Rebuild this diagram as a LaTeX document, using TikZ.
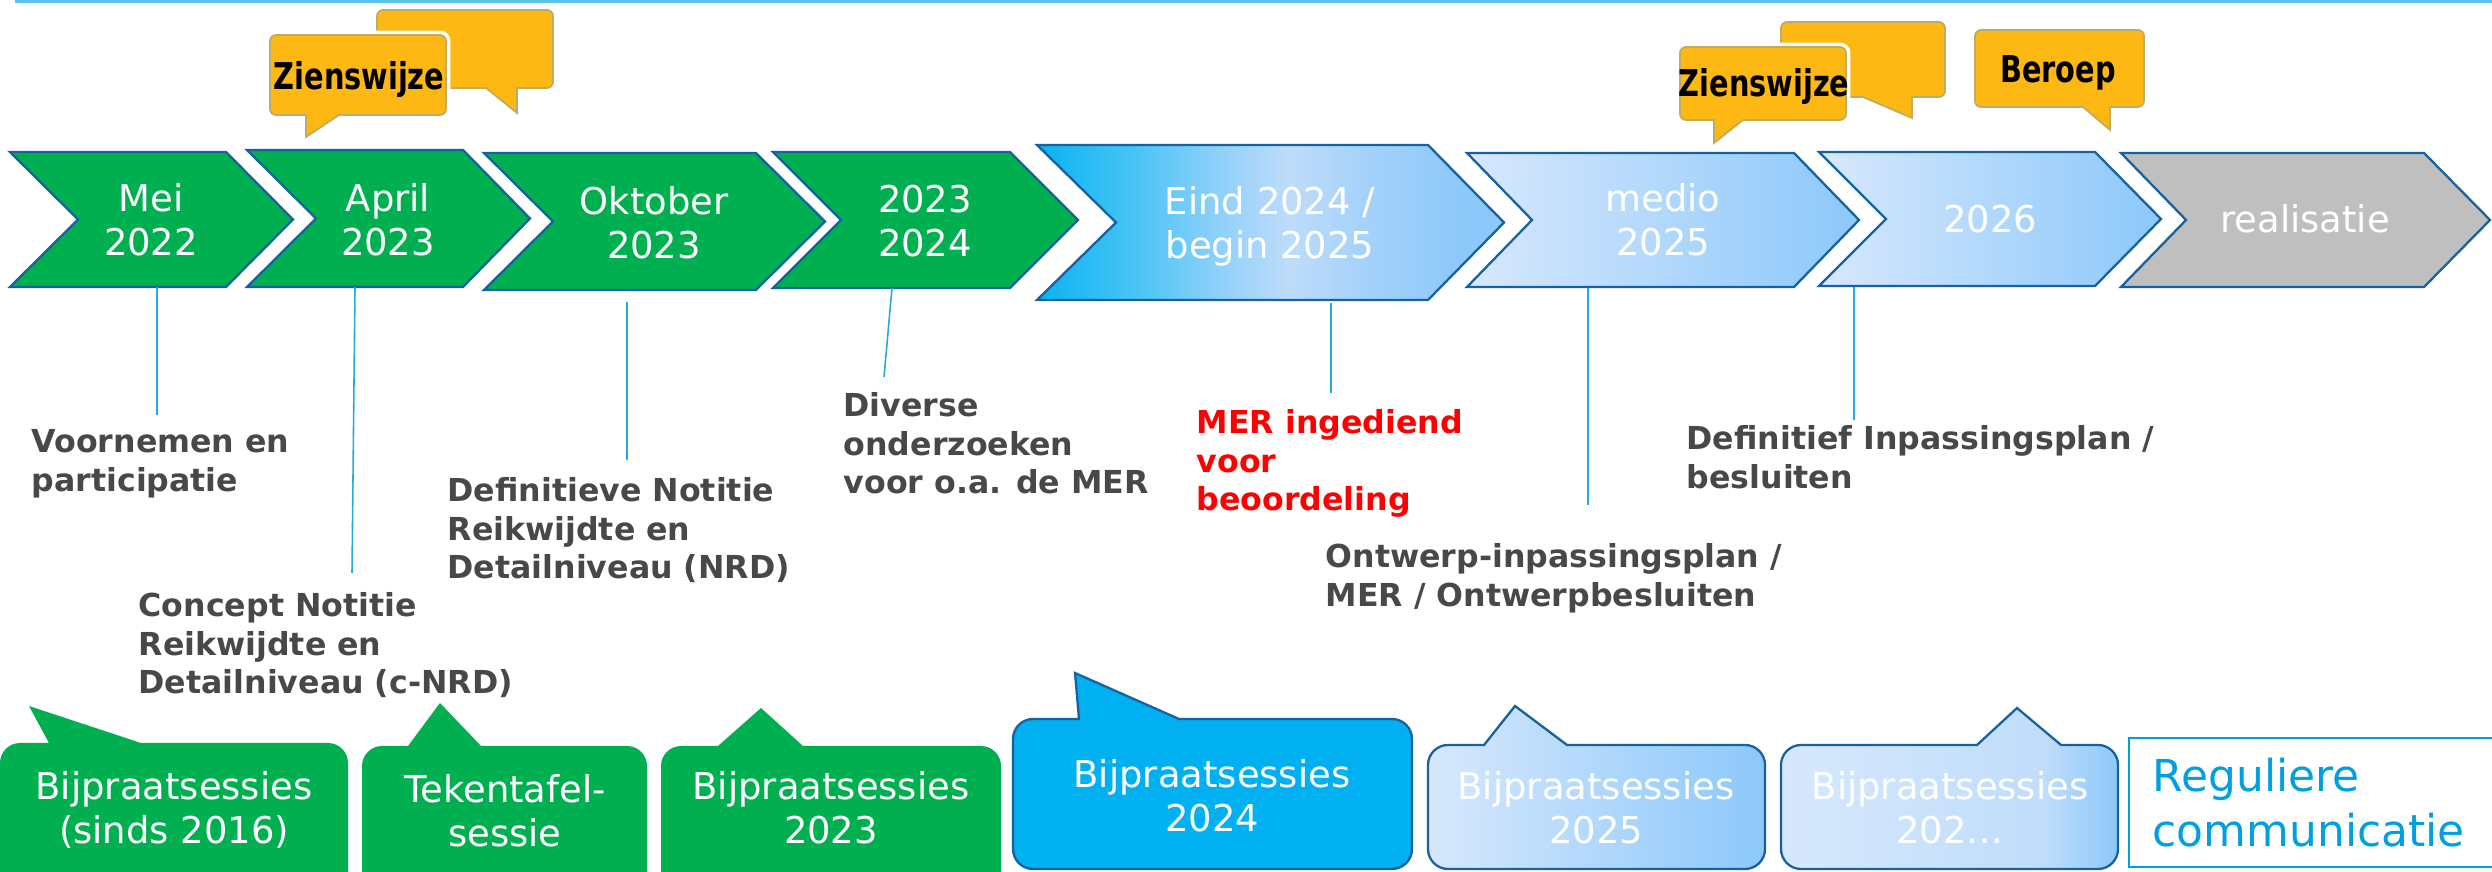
\documentclass[tikz,border=0pt]{standalone}
\usepackage{fontspec}
\setmainfont{DejaVu Sans}
\newfontfamily\zfont{DejaVu Sans}[FakeStretch=0.78]
\definecolor{cgreen}{RGB}{0,176,80}
\definecolor{cedge}{RGB}{22,98,160}
\definecolor{cgray}{RGB}{191,191,191}
\definecolor{clab}{RGB}{72,72,74}
\definecolor{cconn}{RGB}{41,168,224}
\definecolor{ccyan}{RGB}{0,176,240}
\definecolor{cEa}{RGB}{10,178,240}
\definecolor{cEb}{RGB}{70,195,245}
\definecolor{cEc}{RGB}{150,210,250}
\definecolor{cEd}{RGB}{190,220,250}
\definecolor{cEe}{RGB}{165,210,250}
\definecolor{clight}{RGB}{215,232,253}
\definecolor{cB6}{RGB}{192,221,250}
\definecolor{cblue}{RGB}{140,200,250}
\definecolor{creg}{RGB}{0,160,223}
\definecolor{corange}{RGB}{253,184,19}
\definecolor{corangeedge}{RGB}{190,172,100}
\definecolor{ctop}{RGB}{91,194,236}
\pgfdeclarehorizontalshading{eindsh}{100bp}{color(0bp)=(cEa); color(25bp)=(cEa); color(35bp)=(cEb); color(45.5bp)=(cEc); color(52bp)=(cEd); color(60bp)=(cEe); color(70.5bp)=(cblue); color(75bp)=(cblue); color(100bp)=(cblue)}
\pgfdeclarehorizontalshading{lightsh}{100bp}{color(0bp)=(clight); color(25bp)=(clight); color(75bp)=(cblue); color(100bp)=(cblue)}
\pgfdeclarehorizontalshading{bsixsh}{100bp}{color(0bp)=(clight); color(25bp)=(clight); color(64bp)=(cB6); color(75bp)=(cblue); color(100bp)=(cblue)}
\newcommand\ml[1]{\vtop{\halign{\hfil##\hfil\cr#1\crcr}}}
\newcommand\mll[1]{\vtop{\halign{##\hfil\cr#1\crcr}}}
\newcommand\chev[7]{\path[#7] (#1,#2) -- (#3,#2) -- (#4,{(#2+#5)/2}) -- (#3,#5) -- (#1,#5) -- (#6,{(#2+#5)/2}) -- cycle;}
\newcommand\topbub[9]{\path[#9] (#1+\rr,#2) -- (#3-\rr,#2) arc[start angle=-90,end angle=0,radius=\rr] -- (#3,#4-\rr) arc[start angle=0,end angle=90,radius=\rr] -- (#8,#4) -- (#6,#7) -- (#5,#4) -- (#1+\rr,#4) arc[start angle=90,end angle=180,radius=\rr] -- (#1,#2+\rr) arc[start angle=180,end angle=270,radius=\rr] -- cycle;}
\newcommand\botbub[9]{\path[#9] (#1+\rr,#2) -- (#5,#2) -- (#6,#7) -- (#8,#2) -- (#3-\rr,#2) arc[start angle=-90,end angle=0,radius=\rr] -- (#3,#4-\rr) arc[start angle=0,end angle=90,radius=\rr] -- (#1+\rr,#4) arc[start angle=90,end angle=180,radius=\rr] -- (#1,#2+\rr) arc[start angle=180,end angle=270,radius=\rr] -- cycle;}
\tikzset{
  chevgreen/.style={fill=cgreen,draw=cedge,line width=0.65pt},
  chevbox/.style={draw=cedge,line width=0.65pt},
  chevtext/.style={anchor=base,inner sep=0,text=white,font=\fontsize{10.5}{12.3}\selectfont},
  bottext/.style={anchor=base,inner sep=0,text=white,font=\fontsize{10.5}{12.5}\selectfont},
  lab/.style={anchor=base west,inner sep=0,text=clab,font=\bfseries\fontsize{9}{10.9}\selectfont},
  conn/.style={draw=cconn,line width=0.45pt},
  zbub/.style={fill=corange,draw=corangeedge,line width=0.5pt},
  zhalo/.style={draw=white,line width=2.5pt},
  ztext/.style={anchor=base,inner sep=0,text=black,font=\zfont\bfseries\fontsize{10.5}{12}\selectfont},
  bubblue/.style={fill=ccyan,draw=cedge,line width=0.65pt},
}
\begin{document}
\begin{tikzpicture}[x=0.1mm,y=-0.1mm]
\useasboundingbox (0,0) rectangle (2492,872);
\clip (0,0) rectangle (2492,872);
% top line
\draw[ctop,line width=0.7pt] (15,1.5) -- (2492,1.5);
% speech bubbles on top
\def\rr{6}
\topbub{377}{10}{553}{88}{486}{517}{113}{517}{zbub}
\topbub{270}{35}{446}{115}{306}{306}{137}{339}{zhalo}
\topbub{270}{35}{446}{115}{306}{306}{137}{339}{zbub}
\node[ztext] (z1) at (359,90) {Zienswijze};
\topbub{1781}{22}{1945}{97}{1863}{1912}{118}{1912}{zbub}
\topbub{1680}{47}{1846}{120}{1714}{1714}{143}{1743}{zhalo}
\topbub{1680}{47}{1846}{120}{1714}{1714}{143}{1743}{zbub}
\node[ztext] (z2) at (1764,97) {Zienswijze};
\topbub{1975}{30}{2144}{107}{2083}{2110}{130}{2110}{zbub}
\node[ztext] (z3) at (2058,83) {Beroep};
% chevrons
\chev{10}{152}{226}{293}{287}{78}{chevgreen}
\chev{247}{150}{463}{530}{287}{316}{chevgreen}
\chev{484}{153}{756}{825}{290}{553}{chevgreen}
\chev{773}{152}{1010}{1078}{288}{841}{chevgreen}
\chev{1037}{145}{1428}{1504}{300}{1116}{chevbox,shade,shading=eindsh}
\chev{1467}{153}{1794}{1859}{287}{1532}{chevbox,shade,shading=lightsh}
\chev{1819}{152}{2095}{2161}{286}{1886}{chevbox,shade,shading=lightsh}
\chev{2121}{153}{2424}{2490}{287}{2186}{chevbox,fill=cgray}
\node[chevtext] (c1) at (151,212) {\ml{Mei\cr 2022}};
\node[chevtext] (c2) at (388,212) {\ml{April\cr 2023}};
\node[chevtext] (c3) at (654,215) {\ml{Oktober\cr 2023}};
\node[chevtext] (c4) at (925,213) {\ml{2023\cr 2024}};
\node[chevtext] (c5) at (1270,215) {\ml{Eind 2024 /\cr begin 2025}};
\node[chevtext] (c6) at (1663,212) {\ml{medio\cr 2025}};
\node[chevtext] (c7) at (1990,233) {2026};
\node[chevtext] (c8) at (2305,233) {realisatie};
% connectors
\coordinate (a1) at (157,287); \coordinate (b1) at (157,415);
\coordinate (a2) at (355,287); \coordinate (b2) at (352,573);
\coordinate (a3) at (627,302); \coordinate (b3) at (627,460);
\coordinate (a4) at (892,288); \coordinate (b4) at (884,377);
\coordinate (a5) at (1331,303); \coordinate (b5) at (1331,393);
\coordinate (a6) at (1588,288); \coordinate (b6) at (1588,505);
\coordinate (a7) at (1854,287); \coordinate (b7) at (1854,420);
\foreach \i in {1,...,7} {\draw[conn] (a\i) -- (b\i);}
% labels
\node[lab] (l1) at (31,453) {\mll{Voornemen en\cr participatie}};
\node[lab] (l2) at (138,617) {\mll{Concept Notitie\cr Reikwijdte en\cr Detailniveau (c-NRD)}};
\node[lab] (l3) at (447,502) {\mll{Definitieve Notitie\cr Reikwijdte en\cr Detailniveau (NRD)}};
\node[lab] (l4) at (843,417) {\mll{Diverse\cr onderzoeken\cr voor o.a. de MER}};
\node[lab,text=red] (l5) at (1196,434) {\mll{MER ingediend\cr voor\cr beoordeling}};
\node[lab] (l6) at (1325,568) {\mll{Ontwerp-inpassingsplan /\cr MER / Ontwerpbesluiten}};
\node[lab] (l7) at (1686,450) {\mll{Definitief Inpassingsplan /\cr besluiten}};
% bottom bubbles
\def\rr{20}
\botbub{0}{743}{348}{900}{49}{29}{706}{141}{fill=cgreen}
\botbub{362}{746}{647}{900}{408}{440}{703}{481}{fill=cgreen}
\botbub{661}{746}{1001}{900}{718}{761}{708}{803}{fill=cgreen}
\botbub{1013}{719}{1412}{869}{1079}{1075}{673}{1179}{bubblue}
\botbub{1428}{745}{1765}{869}{1484}{1515}{706}{1567}{chevbox,shade,shading=lightsh}
\botbub{1781}{745}{2118}{869}{1977}{2017}{708}{2061}{chevbox,shade,shading=bsixsh}
\node[bottext] (s1) at (174,800) {\ml{Bijpraatsessies\cr (sinds 2016)}};
\node[bottext] (s2) at (505,803) {\ml{Tekentafel-\cr sessie}};
\node[bottext] (s3) at (831,800) {\ml{Bijpraatsessies\cr 2023}};
\node[bottext] (s4) at (1212,788) {\ml{Bijpraatsessies\cr 2024}};
\node[bottext] (s5) at (1596,800) {\ml{Bijpraatsessies\cr 2025}};
\node[bottext] (s6) at (1950,800) {\ml{Bijpraatsessies\cr 202…}};
% regular communication box
\draw[creg,line width=0.5pt] (2129,738) rectangle (2510,867);
\node[anchor=base west,inner sep=0,text=creg,font=\fontsize{12.5}{15.6}\selectfont] (reg) at (2152,792) {\mll{Reguliere\cr communicatie}};
\end{tikzpicture}
\end{document}
